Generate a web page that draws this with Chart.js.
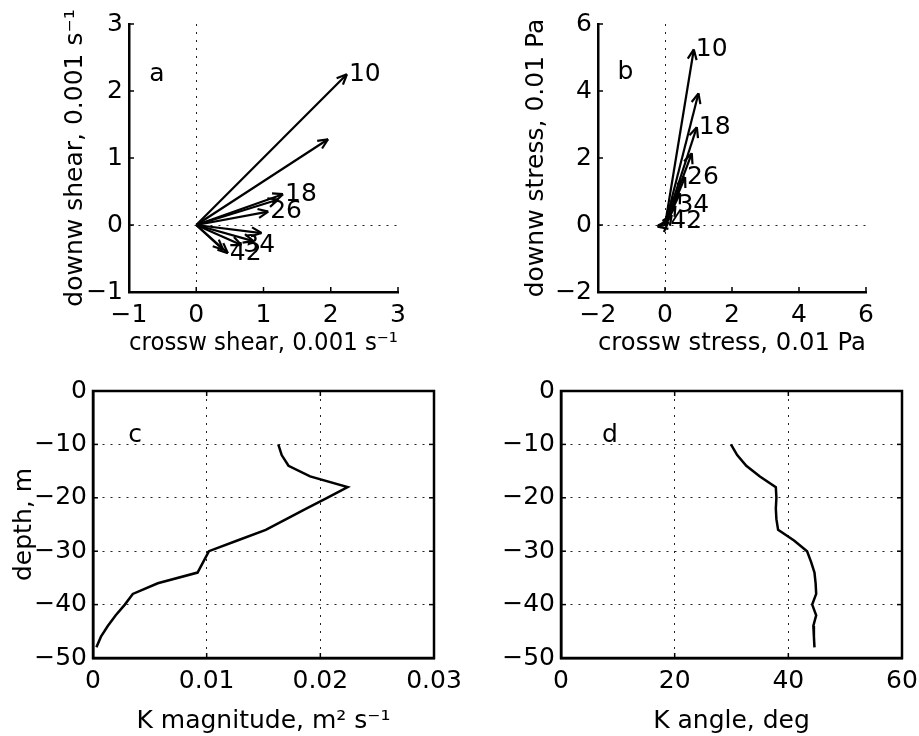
<!DOCTYPE html>
<html>
<head>
<meta charset="utf-8">
<script src="https://cdn.jsdelivr.net/npm/chart.js@4"></script>
<style>
  body { margin: 0; background: #fff; }
  #wrap { position: relative; width: 919px; height: 736px; overflow: hidden; }
  canvas { position: absolute; }
</style>
</head>
<body>
<div id="wrap">
  <canvas id="pa" width="460" height="370" style="left:0;top:0"></canvas>
  <canvas id="pb" width="459" height="370" style="left:460px;top:0"></canvas>
  <canvas id="pc" width="470" height="366" style="left:0;top:370px"></canvas>
  <canvas id="pd" width="459" height="366" style="left:460px;top:370px"></canvas>
</div>
<script>
// arrows every 4 m, only every other one gets its depth written next to it
const arrowDepth = [10, 14, 18, 22, 26, 30, 34, 38, 42, 46];
const labelDepth = [10, 18, 26, 34, 42];
const shearU = [2.24, 1.96, 1.29, 1.22, 1.07, 0.97, 0.67, 0.85, 0.47, 0.40];
const shearV = [2.25, 1.28, 0.46, 0.38, 0.20, -0.12, -0.30, -0.24, -0.42, -0.37];
const stressU = [0.86, 1.00, 0.95, 0.80, 0.60, 0.45, 0.31, 0.20, 0.10, -0.22];
const stressV = [5.24, 3.93, 2.92, 2.14, 1.43, 0.95, 0.57, 0.30, 0.09, -0.05];

// K profiles every 2 m
const kDepth = [-10, -12, -14, -16, -18, -20, -22, -24, -26, -28, -30, -32, -34, -36, -38, -40, -42, -44, -46, -48];
const kMag = [0.0163, 0.0166, 0.0172, 0.0191, 0.0224, 0.0206, 0.0188, 0.0170, 0.0152, 0.0127,
              0.0102, 0.0097, 0.0092, 0.0057, 0.0035, 0.0028, 0.0020, 0.0013, 0.0007, 0.0003];
const kAngle = [29.9, 31.0, 32.6, 35.0, 37.8, 37.9, 37.8, 37.9, 38.2, 41.0,
                43.3, 44.0, 44.6, 44.8, 44.9, 44.2, 44.9, 44.4, 44.5, 44.6];

// tick labels
const shearTicks = [-1, 0, 1, 2, 3];
const stressTicks = [-2, 0, 2, 4, 6];
const magTicks = [0, 0.01, 0.02, 0.03];
const angleTicks = [0, 20, 40, 60];
const depthTicks = [-50, -40, -30, -20, -10, 0];

const FONT = '"DejaVu Sans", sans-serif';
Chart.defaults.font.family = FONT;
Chart.defaults.font.size = 25;
Chart.defaults.color = '#000';

const fmt = v => v < 0 ? '\u2212' + Math.abs(v) : String(v);

// inward ticks, box, arrow heads and text labels
const ink = {
    id: 'ink',
    afterDatasetsDraw: (chart, args, o) => {
        const { ctx, chartArea: a, scales: { x, y } } = chart;
        const line = (x1, y1, x2, y2) => { ctx.beginPath(); ctx.moveTo(x1, y1); ctx.lineTo(x2, y2); ctx.stroke(); };
        ctx.save();
        ctx.strokeStyle = '#000';
        ctx.fillStyle = '#000';
        ctx.lineWidth = 1.5;
        x.ticks.forEach(t => {
            const p = x.getPixelForValue(t.value);
            line(p, a.bottom, p, a.bottom - 5);
            if (o.box) line(p, a.top, p, a.top + 5);
        });
        y.ticks.forEach(t => {
            const p = y.getPixelForValue(t.value);
            line(a.left, p, a.left + 5, p);
            if (o.box) line(a.right, p, a.right - 5, p);
        });
        if (o.box) {
            ctx.lineWidth = 2.5;
            ctx.strokeRect(a.left, a.top, a.right - a.left, a.bottom - a.top);
        }
        ctx.font = '25px ' + FONT;
        ctx.textBaseline = 'middle';
        ctx.textAlign = 'left';
        if (o.u) {
            ctx.lineWidth = 2.2;
            const x0 = x.getPixelForValue(0), y0 = y.getPixelForValue(0);
            arrowDepth.forEach((d, i) => {
                const tx = x.getPixelForValue(o.u[i]), ty = y.getPixelForValue(o.v[i]);
                const ang = Math.atan2(ty - y0, tx - x0);
                [0.42, -0.42].forEach(s => line(tx, ty, tx - 11 * Math.cos(ang + s), ty - 11 * Math.sin(ang + s)));
                if (labelDepth.includes(d)) ctx.fillText(String(d), tx + 2, ty);
            });
        }
        ctx.fillText(o.letter, x.getPixelForValue(o.letterAt[0]), y.getPixelForValue(o.letterAt[1]));
        ctx.restore();
    }
};

function axis(c, fit) {
    const lo = c.ticks[0], hi = c.ticks[c.ticks.length - 1];
    return {
        type: 'linear', min: lo, max: hi,
        afterBuildTicks: s => { s.ticks = c.ticks.map(v => ({ value: v })); },
        afterFit: s => {
            fit(s);
            // keep the plot box where the reference has it, labels may hang over
            s.paddingLeft = s.paddingRight = s.paddingTop = s.paddingBottom = 0;
        },
        ticks: { padding: c.pad, callback: v => fmt(v), autoSkip: false, maxRotation: 0 },
        grid: {
            drawTicks: false, lineWidth: 1,
            color: g => {
                const v = g.tick ? g.tick.value : null;
                if (v === lo || v === hi) return 'transparent';
                return (c.allGrid || v === 0) ? '#222' : 'transparent';
            }
        },
        border: { color: '#000', width: 2.5, dash: [2, 6] },
        title: { display: !!c.title, text: c.title || '', padding: c.titlePad || 0 }
    };
}

function panel(id, area, cfg) {
    const cv = document.getElementById(id);
    const W = cv.width, H = cv.height;
    return new Chart(cv, {
        type: 'scatter',
        data: { datasets: cfg.datasets },
        options: {
            responsive: false, animation: false, devicePixelRatio: 1,
            layout: { padding: { left: 0, top: area.top, right: W - area.right, bottom: 0 } },
            plugins: { legend: { display: false }, tooltip: { enabled: false }, ink: cfg.ink },
            scales: {
                x: axis(cfg.x, s => { s.height = H - area.bottom; }),
                y: axis(cfg.y, s => { s.width = area.left; })
            }
        },
        plugins: [ink]
    });
}

const arrowSets = (u, v) => arrowDepth.map((d, i) => ({
    data: [{ x: 0, y: 0 }, { x: u[i], y: v[i] }],
    showLine: true, borderColor: '#000', borderWidth: 2.2, pointRadius: 0
}));
const profileSet = vals => [{
    data: kDepth.map((d, i) => ({ x: vals[i], y: d })),
    showLine: true, borderColor: '#000', borderWidth: 2.5, pointRadius: 0, tension: 0
}];

panel('pa', { left: 129, right: 398, top: 24, bottom: 292 }, {
    datasets: arrowSets(shearU, shearV),
    x: { ticks: shearTicks, pad: 8, title: 'crossw shear, 0.001 s\u207B\u00B9', titlePad: { bottom: 12 } },
    y: { ticks: shearTicks, pad: 6, title: 'downw shear, 0.001 s\u207B\u00B9', titlePad: { top: 60 } },
    ink: { u: shearU, v: shearV, letter: 'a', letterAt: [-0.7, 2.25] }
});

panel('pb', { left: 138, right: 406, top: 24, bottom: 292 }, {
    datasets: arrowSets(stressU, stressV),
    x: { ticks: stressTicks, pad: 8, title: 'crossw stress, 0.01 Pa', titlePad: { bottom: 12 } },
    y: { ticks: stressTicks, pad: 6, title: 'downw stress, 0.01 Pa', titlePad: { top: 61 } },
    ink: { u: stressU, v: stressV, letter: 'b', letterAt: [-1.42, 4.55] }
});

panel('pc', { left: 93, right: 434, top: 21, bottom: 288 }, {
    datasets: profileSet(kMag),
    x: { ticks: magTicks, pad: 8, allGrid: true, title: 'K magnitude, m\u00B2 s\u207B\u00B9', titlePad: { bottom: 0 } },
    y: { ticks: depthTicks, pad: 6, allGrid: true, title: 'depth, m', titlePad: { top: 9 } },
    ink: { box: true, letter: 'c', letterAt: [0.0031, -8.4] }
});

panel('pd', { left: 101, right: 442, top: 21, bottom: 288 }, {
    datasets: profileSet(kAngle),
    x: { ticks: angleTicks, pad: 8, allGrid: true, title: 'K angle, deg', titlePad: { bottom: 0 } },
    y: { ticks: depthTicks, pad: 6, allGrid: true },
    ink: { box: true, letter: 'd', letterAt: [7.2, -8.4] }
});
</script>
</body>
</html>
